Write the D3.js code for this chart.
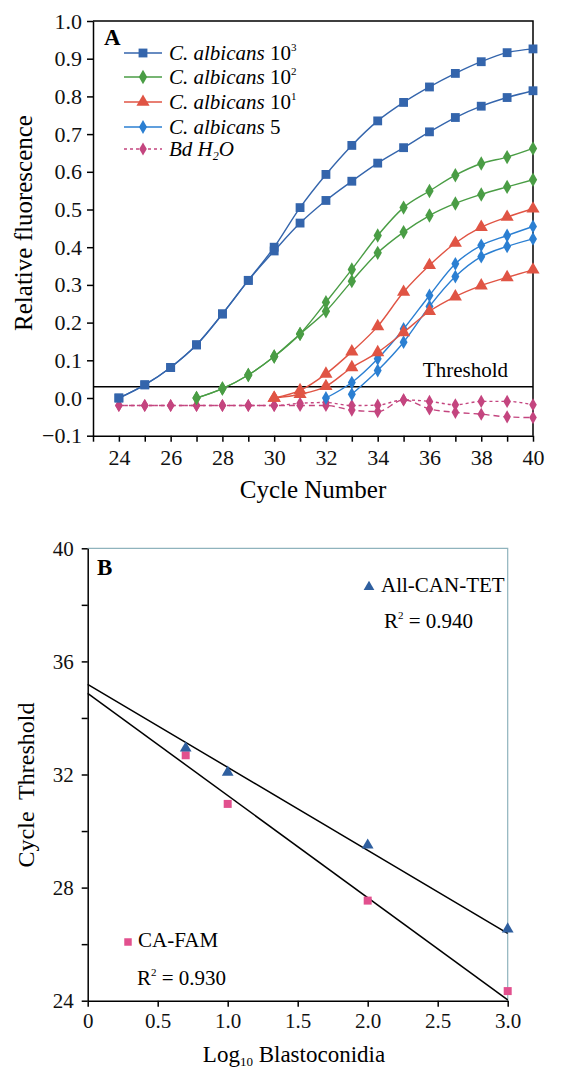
<!DOCTYPE html>
<html>
<head>
<meta charset="utf-8">
<script src="https://cdn.jsdelivr.net/npm/d3@7"></script>
<style>
  body { margin: 0; background: #fff; }
  svg { display: block; font-family: "Liberation Serif", "Times New Roman", serif; }
</style>
</head>
<body>
<svg id="chart" width="561" height="1071"></svg>
<script>
// ---- Panel A data: relative fluorescence per PCR cycle ----
const cyc24 = [24, 25, 26, 27, 28, 29, 30, 31, 32, 33, 34, 35, 36, 37, 38, 39, 40];
const cyc27 = [27, 28, 29, 30, 31, 32, 33, 34, 35, 36, 37, 38, 39, 40];
const cyc30 = [30, 31, 32, 33, 34, 35, 36, 37, 38, 39, 40];
const cyc32 = [32, 33, 34, 35, 36, 37, 38, 39, 40];
const cyc33 = [33, 34, 35, 36, 37, 38, 39, 40];

const ca1000a = [0.000, 0.035, 0.081, 0.141, 0.223, 0.312, 0.400, 0.505, 0.593, 0.670, 0.735, 0.784, 0.825, 0.861, 0.892, 0.916, 0.926];
const ca1000b = [0.000, 0.035, 0.081, 0.141, 0.223, 0.312, 0.390, 0.464, 0.524, 0.575, 0.623, 0.664, 0.706, 0.744, 0.774, 0.797, 0.815];
const ca100a = [0.000, 0.025, 0.061, 0.110, 0.170, 0.254, 0.341, 0.431, 0.505, 0.549, 0.591, 0.622, 0.639, 0.662];
const ca100b = [0.000, 0.025, 0.061, 0.110, 0.170, 0.230, 0.310, 0.385, 0.440, 0.484, 0.516, 0.540, 0.560, 0.579];
const ca10a = [0.000, 0.020, 0.064, 0.123, 0.190, 0.281, 0.352, 0.411, 0.453, 0.480, 0.502];
const ca10b = [0.000, 0.010, 0.031, 0.081, 0.121, 0.174, 0.230, 0.269, 0.298, 0.320, 0.340];
const ca5a = [0.000, 0.041, 0.104, 0.183, 0.272, 0.356, 0.405, 0.431, 0.455];
const ca5b = [0.010, 0.073, 0.148, 0.243, 0.322, 0.375, 0.402, 0.422];
const h2oA = [-0.020, -0.020, -0.020, -0.020, -0.020, -0.020, -0.020, -0.014, -0.012, -0.020, -0.019, -0.005, -0.009, -0.018, -0.009, -0.009, -0.018];
const h2oB = [-0.020, -0.020, -0.020, -0.020, -0.020, -0.020, -0.020, -0.020, -0.020, -0.032, -0.036, -0.005, -0.029, -0.038, -0.043, -0.050, -0.052];
const threshold = 0.03;

const yTicksA = [-0.1, 0.0, 0.1, 0.2, 0.3, 0.4, 0.5, 0.6, 0.7, 0.8, 0.9, 1.0];
const xTicksA = [23, 24, 25, 26, 27, 28, 29, 30, 31, 32, 33, 34, 35, 36, 37, 38, 39, 40];
const xLabelsA = [24, 26, 28, 30, 32, 34, 36, 38, 40];

// ---- Panel B data: cycle threshold vs log10 blastoconidia ----
const logB = [0.7, 1.0, 2.0, 3.0];
const ctTET = [32.93, 32.08, 29.50, 26.53];
const ctFAM = [32.68, 30.96, 27.54, 24.34];
const fitX = [0, 3];
const fitTET = [35.19, 26.38];
const fitFAM = [34.87, 24.03];
const yTicksB = [24, 26, 28, 30, 32, 34, 36, 38, 40];
const yLabelsB = [24, 28, 32, 36, 40];
const xTicksB = [0, 0.5, 1.0, 1.5, 2.0, 2.5, 3.0];

const svg = d3.select('#chart');

// ================= Panel A =================
const A = { left: 93, right: 533, top: 21, bottom: 435.7 };
const xA = d3.scaleLinear().domain([23, 40]).range([A.left, A.right]);
const yA = d3.scaleLinear().domain([-0.1, 1.0]).range([A.bottom, A.top]);

const gA = svg.append('g');

// frame (top + right)
gA.append('path')
  .attr('d', `M${A.left},${A.top}H${A.right}V${A.bottom}`)
  .attr('fill', 'none').attr('stroke', '#000').attr('stroke-width', 1.5);

const axA_y = gA.append('g')
  .attr('transform', `translate(${A.left},0)`)
  .call(d3.axisLeft(yA).tickValues(yTicksA).tickFormat(d3.format('.1f')).tickSize(6).tickSizeOuter(0).tickPadding(5));
const axA_x = gA.append('g')
  .attr('transform', `translate(0,${A.bottom})`)
  .call(d3.axisBottom(xA).tickValues(xTicksA)
    .tickFormat(d => xLabelsA.includes(d) ? d : '')
    .tickSize(6).tickSizeOuter(0).tickPadding(8));
[axA_y, axA_x].forEach(ax => {
  ax.attr('font-family', null);
  ax.select('.domain').attr('stroke-width', 1.5);
  ax.selectAll('.tick line').attr('stroke-width', 1.5);
  ax.selectAll('text').attr('font-size', 22).attr('fill', '#111');
});

// threshold
gA.append('line')
  .attr('x1', A.left).attr('x2', A.right)
  .attr('y1', yA(threshold)).attr('y2', yA(threshold))
  .attr('stroke', '#000').attr('stroke-width', 1.5);
gA.append('text')
  .attr('x', 508).attr('y', 377).attr('text-anchor', 'end')
  .attr('font-size', 21).text('Threshold');

const seriesA = [
  { cyc: cyc24, val: ca1000a, color: '#3465ac', mark: d3.symbolSquare, size: 78, dash: null },
  { cyc: cyc24, val: ca1000b, color: '#3465ac', mark: d3.symbolSquare, size: 78, dash: null },
  { cyc: cyc27, val: ca100a, color: '#4a9d45', mark: d3.symbolDiamond, size: 60, dash: null },
  { cyc: cyc27, val: ca100b, color: '#4a9d45', mark: d3.symbolDiamond, size: 60, dash: null },
  { cyc: cyc30, val: ca10a, color: '#e05444', mark: d3.symbolTriangle, size: 75, dash: null },
  { cyc: cyc30, val: ca10b, color: '#e05444', mark: d3.symbolTriangle, size: 75, dash: null },
  { cyc: cyc32, val: ca5a, color: '#2b7fd2', mark: d3.symbolDiamond, size: 55, dash: null },
  { cyc: cyc33, val: ca5b, color: '#2b7fd2', mark: d3.symbolDiamond, size: 55, dash: null },
  { cyc: cyc24, val: h2oA, color: '#c4457f', mark: d3.symbolDiamond, size: 50, dash: '3,3' },
  { cyc: cyc24, val: h2oB, color: '#c4457f', mark: d3.symbolDiamond, size: 50, dash: '6,4' }
];

const lineA = d3.line().x(d => xA(d[0])).y(d => yA(d[1])).curve(d3.curveMonotoneX);

// draw H2O first so the curves sit on top
seriesA.slice().reverse().forEach(s => {
  const pts = s.cyc.map((c, i) => [c, s.val[i]]);
  gA.append('path')
    .attr('d', lineA(pts))
    .attr('fill', 'none')
    .attr('stroke', s.color)
    .attr('stroke-width', 1.4)
    .attr('stroke-dasharray', s.dash);
  gA.selectAll(null).data(pts).join('path')
    .attr('transform', d => `translate(${xA(d[0])},${yA(d[1])})`)
    .attr('d', d3.symbol().type(s.mark).size(s.size))
    .attr('fill', s.color);
});

// panel letter
gA.append('text').attr('x', 104).attr('y', 45)
  .attr('font-size', 23).attr('font-weight', 'bold').text('A');

// legend
const legendA = [
  { s: seriesA[0], label: ['C. albicans', ' 10', '3'] },
  { s: seriesA[2], label: ['C. albicans', ' 10', '2'] },
  { s: seriesA[4], label: ['C. albicans', ' 10', '1'] },
  { s: seriesA[6], label: ['C. albicans', ' 5', ''] },
  { s: seriesA[8], label: null }
];
const legRows = [53, 77, 102, 127, 149];
legendA.forEach((l, i) => {
  const y = legRows[i];
  gA.append('line').attr('x1', 124).attr('x2', 162).attr('y1', y).attr('y2', y)
    .attr('stroke', l.s.color).attr('stroke-width', 1.4).attr('stroke-dasharray', l.label ? null : '3,3');
  gA.append('path').attr('transform', `translate(143,${y})`)
    .attr('d', d3.symbol().type(l.s.mark).size(l.s.size)).attr('fill', l.s.color);
  const t = gA.append('text').attr('x', 169).attr('y', y + 7).attr('font-size', 21);
  if (l.label) {
    t.append('tspan').attr('font-style', 'italic').text(l.label[0]);
    t.append('tspan').text(l.label[1]);
    if (l.label[2]) t.append('tspan').attr('font-size', 11).attr('dy', -9).text(l.label[2]);
  } else {
    t.append('tspan').attr('font-style', 'italic').text('Bd H');
    t.append('tspan').attr('font-style', 'italic').attr('font-size', 12).attr('dy', 4).text('2');
    t.append('tspan').attr('font-style', 'italic').attr('dy', -4).text('O');
  }
});

// axis titles
gA.append('text')
  .attr('transform', `translate(32,223) rotate(-90)`)
  .attr('text-anchor', 'middle').attr('font-size', 25).text('Relative fluorescence');
gA.append('text')
  .attr('x', 313).attr('y', 498).attr('text-anchor', 'middle')
  .attr('font-size', 25).text('Cycle Number');

// ================= Panel B =================
const B = { left: 87.7, right: 507.7, top: 548.3, bottom: 1000.7 };
const xB = d3.scaleLinear().domain([0, 3]).range([B.left, B.right]);
const yB = d3.scaleLinear().domain([24, 40]).range([B.bottom, B.top]);

const gB = svg.append('g');

gB.append('path')
  .attr('d', `M${B.left},${B.top}H${B.right}V${B.bottom}`)
  .attr('fill', 'none').attr('stroke', '#8fb3bd').attr('stroke-width', 1.2);

const axB_y = gB.append('g')
  .attr('transform', `translate(${B.left},0)`)
  .call(d3.axisLeft(yB).tickValues(yTicksB)
    .tickFormat(d => yLabelsB.includes(d) ? d : '')
    .tickSize(6).tickSizeOuter(0).tickPadding(8));
const axB_x = gB.append('g')
  .attr('transform', `translate(0,${B.bottom})`)
  .call(d3.axisBottom(xB).tickValues(xTicksB)
    .tickFormat(d => d === 0 ? '0' : d3.format('.1f')(d))
    .tickSize(6).tickSizeOuter(0).tickPadding(6));
[axB_y, axB_x].forEach(ax => {
  ax.attr('font-family', null);
  ax.select('.domain').attr('stroke-width', 1.5);
  ax.selectAll('.tick line').attr('stroke-width', 1.5);
  ax.selectAll('text').attr('font-size', 21).attr('fill', '#111');
});

// regression lines
const lineB = d3.line().x(d => xB(d[0])).y(d => yB(d[1]));
[fitTET, fitFAM].forEach(f => {
  gB.append('path')
    .attr('d', lineB(fitX.map((x, i) => [x, f[i]])))
    .attr('fill', 'none').attr('stroke', '#000').attr('stroke-width', 1.5);
});

const tetColor = '#2f5f9f', famColor = '#e2508e';
gB.selectAll(null).data(logB.map((x, i) => [x, ctFAM[i]])).join('path')
  .attr('transform', d => `translate(${xB(d[0])},${yB(d[1])})`)
  .attr('d', d3.symbol().type(d3.symbolSquare).size(64)).attr('fill', famColor);
gB.selectAll(null).data(logB.map((x, i) => [x, ctTET[i]])).join('path')
  .attr('transform', d => `translate(${xB(d[0])},${yB(d[1])})`)
  .attr('d', d3.symbol().type(d3.symbolTriangle).size(60)).attr('fill', tetColor);

gB.append('text').attr('x', 97).attr('y', 575)
  .attr('font-size', 23).attr('font-weight', 'bold').text('B');

// legend B
gB.append('path').attr('transform', 'translate(369,587)')
  .attr('d', d3.symbol().type(d3.symbolTriangle).size(50)).attr('fill', tetColor);
gB.append('text').attr('x', 381).attr('y', 592).attr('font-size', 21).text('All-CAN-TET');
const r1 = gB.append('text').attr('x', 384).attr('y', 628).attr('font-size', 21);
r1.append('tspan').text('R');
r1.append('tspan').attr('font-size', 11).attr('dy', -9).text('2');
r1.append('tspan').attr('dy', 9).text(' = 0.940');

gB.append('path').attr('transform', 'translate(128,942)')
  .attr('d', d3.symbol().type(d3.symbolSquare).size(56)).attr('fill', famColor);
gB.append('text').attr('x', 138).attr('y', 947).attr('font-size', 21).text('CA-FAM');
const r2 = gB.append('text').attr('x', 137).attr('y', 985).attr('font-size', 21);
r2.append('tspan').text('R');
r2.append('tspan').attr('font-size', 11).attr('dy', -9).text('2');
r2.append('tspan').attr('dy', 9).text(' = 0.930');

// axis titles B
gB.append('text')
  .attr('transform', 'translate(34,785) rotate(-90)')
  .attr('text-anchor', 'middle').attr('font-size', 24)
  .style('white-space', 'pre').text('Cycle  Threshold');
const xt = gB.append('text').attr('x', 294).attr('y', 1062)
  .attr('text-anchor', 'middle').attr('font-size', 23);
xt.append('tspan').text('Log');
xt.append('tspan').attr('font-size', 13).attr('dy', 4).text('10');
xt.append('tspan').attr('dy', -4).text(' Blastoconidia');
</script>
</body>
</html>
